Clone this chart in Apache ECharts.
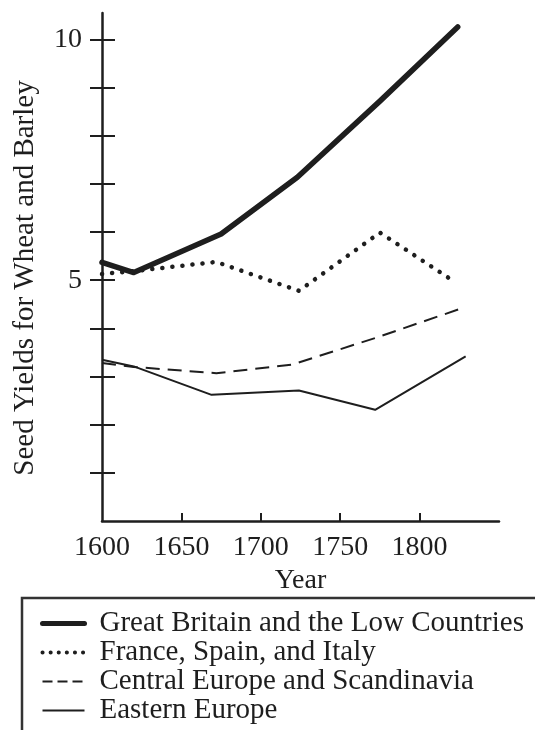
<!DOCTYPE html>
<html><head><meta charset="utf-8">
<script src="https://cdn.jsdelivr.net/npm/echarts@6/dist/echarts.min.js"></script>
<style>html,body{margin:0;padding:0;background:#fff}#c{width:535px;height:730px}</style>
</head><body><div id="c"></div>
<script>
const seriesNames = ['Great Britain and the Low Countries','France, Spain, and Italy','Central Europe and Scandinavia','Eastern Europe'];
const gbYears = [1600,1620,1675,1723,1775,1824];
const gbValues = [5.37,5.16,5.96,7.14,8.72,10.26];
const fsiYears = [1600,1620,1672,1724,1775,1821];
const fsiValues = [5.13,5.19,5.38,4.78,5.99,4.99];
const cesYears = [1600,1620,1672,1720,1772,1825];
const cesValues = [3.28,3.20,3.07,3.25,3.80,4.40];
const eeYears = [1600,1620,1669,1724,1772,1829];
const eeValues = [3.35,3.21,2.62,2.71,2.31,3.42];
const xTickLabels = [1600,1650,1700,1750,1800];
const xTicks = [1650,1700,1750,1800];
const yTicks = [1,2,3,4,5,6,7,8,9,10];
const yTickLabels = [5,10];

const pair = (xs, ys) => xs.map((x,i)=>[x, ys[i]]);
const ink = '#1e1e1e';
const font = 'Liberation Serif';

const chart = echarts.init(document.getElementById('c'), null, {renderer:'canvas'});
chart.setOption({
  animation:false,
  backgroundColor:'#fff',
  textStyle:{fontFamily:font},
  grid:{left:102,right:36,top:13,bottom:209,containLabel:false},
  xAxis:{type:'value',min:1600,max:1850,
    name:'Year',nameLocation:'middle',nameGap:44,
    nameTextStyle:{fontFamily:font,fontSize:28,color:ink},
    axisLine:{lineStyle:{color:ink,width:2.5}},
    axisTick:{inside:true,length:8,customValues:xTicks,lineStyle:{color:ink,width:2}},
    axisLabel:{customValues:xTickLabels,margin:13,fontFamily:font,fontSize:28,color:ink,formatter:v=>String(v)},
    splitLine:{show:false}},
  yAxis:[{type:'value',min:0,max:10.55,
    axisLine:{show:true,lineStyle:{color:ink,width:2.5}},
    axisTick:{show:true,inside:false,length:12,customValues:yTicks,lineStyle:{color:ink,width:2}},
    axisLabel:{customValues:yTickLabels,margin:20,fontFamily:font,fontSize:28,color:ink,formatter:v=>String(v)},
    splitLine:{show:false}},
   {type:'value',min:0,max:10.55,position:'left',
    axisLine:{show:false},
    axisTick:{show:true,inside:true,length:13,customValues:yTicks,lineStyle:{color:ink,width:2}},
    axisLabel:{show:false},splitLine:{show:false}}],
  legend:{orient:'vertical',left:40,top:609,padding:0,itemWidth:42,itemHeight:14,itemGap:0,
    itemStyle:{opacity:0},
    textStyle:{fontFamily:font,fontSize:29,color:ink,padding:[0,0,0,10],lineHeight:29},
    data:[
      {name:seriesNames[0],lineStyle:{width:5,color:ink}},
      {name:seriesNames[1],lineStyle:{type:[0.1,8],width:4,cap:'round',color:ink}},
      {name:seriesNames[2],lineStyle:{type:[10,5],width:2,color:ink}},
      {name:seriesNames[3],lineStyle:{width:2,color:ink}}]},
  graphic:[
    {type:'rect',shape:{x:22,y:598,width:600,height:200},style:{fill:'none',stroke:'#333',lineWidth:2.5},silent:true},
    {type:'text',x:25,y:278,rotation:Math.PI/2,style:{text:'Seed Yields for Wheat and Barley',font:'29px "Liberation Serif"',fill:ink,align:'center',verticalAlign:'middle'}}
  ],
  series:[
    {name:seriesNames[0],type:'line',symbol:'none',data:pair(gbYears,gbValues),color:ink,lineStyle:{color:ink,width:5.5,cap:'round',join:'round'}},
    {name:seriesNames[1],type:'line',symbol:'none',data:pair(fsiYears,fsiValues),color:ink,lineStyle:{color:ink,width:4.5,type:[0.1,10],cap:'round'}},
    {name:seriesNames[2],type:'line',symbol:'none',data:pair(cesYears,cesValues),color:ink,lineStyle:{color:ink,width:2,type:[14,8]}},
    {name:seriesNames[3],type:'line',symbol:'none',data:pair(eeYears,eeValues),color:ink,lineStyle:{color:ink,width:2}}
  ]
});
</script></body></html>
